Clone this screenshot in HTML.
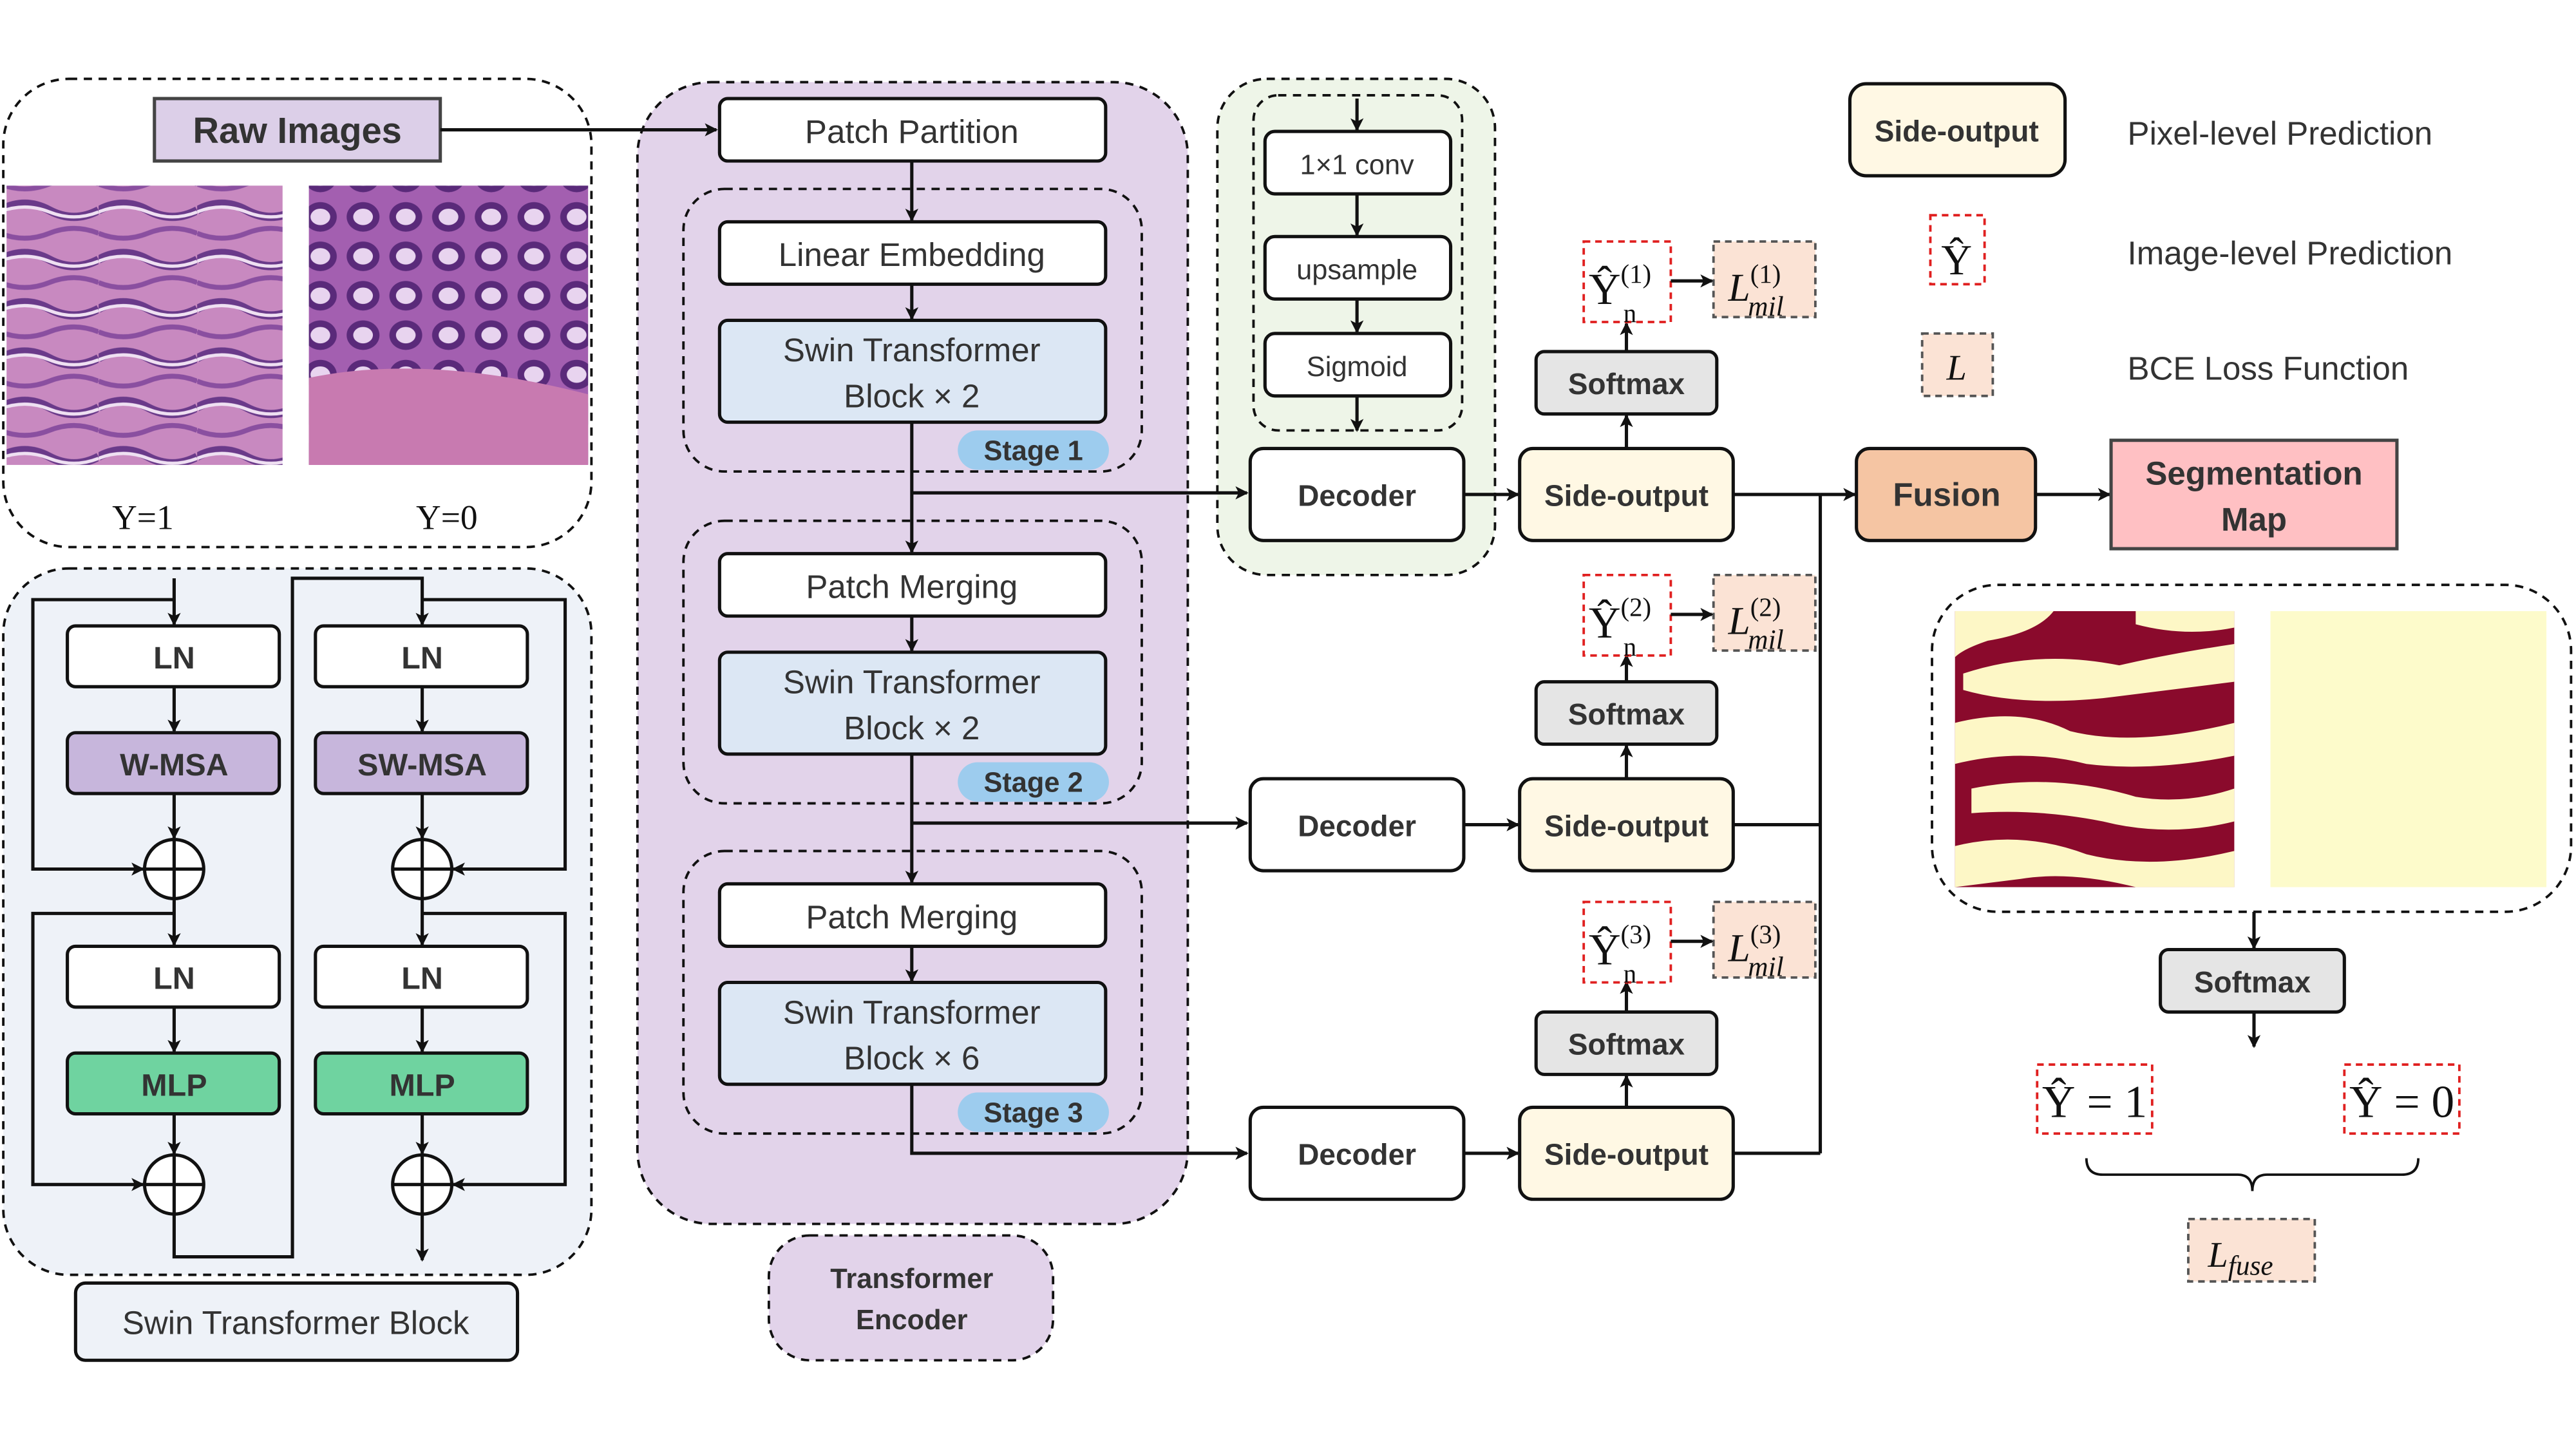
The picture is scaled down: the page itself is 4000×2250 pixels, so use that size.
<!DOCTYPE html>
<html><head><meta charset="utf-8"><style>
html,body{margin:0;padding:0;background:#fff}
svg{display:block}
text{font-family:"Liberation Sans",sans-serif;fill:#333}
.b{font-weight:bold}
.s{font-family:"Liberation Serif",serif;fill:#111}
</style></head><body>
<svg width="4000" height="2250" viewBox="0 0 1568 882" preserveAspectRatio="none" xmlns="http://www.w3.org/2000/svg">
<defs>
<marker id="a" markerWidth="8" markerHeight="8" refX="7" refY="4" orient="auto" markerUnits="userSpaceOnUse"><path d="M0,0 L8,4 L0,8 L2,4 z" fill="#111"/></marker>
<pattern id="glands" width="26" height="24" patternUnits="userSpaceOnUse">
<rect width="26" height="24" fill="#a35fb0"/>
<ellipse cx="13" cy="12" rx="10" ry="9" fill="#5a2a7a"/>
<ellipse cx="13" cy="12" rx="6" ry="5" fill="#e8d4ef"/>
</pattern>
<pattern id="tissue" width="60" height="30" patternUnits="userSpaceOnUse">
<rect width="60" height="30" fill="#c889c0"/>
<path d="M0,8 Q15,0 30,8 T60,8" stroke="#6a3a8a" stroke-width="5" fill="none"/>
<path d="M0,9 Q15,3 30,9 T60,9" stroke="#efe0f2" stroke-width="2" fill="none"/>
<path d="M0,22 Q15,28 30,22 T60,22" stroke="#8a4fa0" stroke-width="3" fill="none"/>
</pattern>
</defs>
<g stroke="#111" stroke-width="2" fill="none">
<!-- top-left panel -->
<rect x="2" y="48" width="358" height="285" rx="40" stroke-dasharray="5,4" stroke-width="1.5"/>
<rect x="94" y="60" width="174" height="38" fill="#dccfe8" stroke="#444"/>
<rect x="4" y="113" width="168" height="170" fill="url(#tissue)" stroke="none"/>
<rect x="188" y="113" width="170" height="170" fill="url(#glands)" stroke="none"/>
<path d="M188,230 Q260,215 358,240 L358,283 L188,283z" fill="#c87ab0" stroke="none"/>
<!-- swin block panel -->
<rect x="2" y="346" width="358" height="430" rx="40" fill="#eef2f8" stroke-dasharray="5,4" stroke-width="1.5"/>
<rect x="41" y="381" width="129" height="37" rx="5" fill="#fff"/>
<rect x="192" y="381" width="129" height="37" rx="5" fill="#fff"/>
<rect x="41" y="446" width="129" height="37" rx="5" fill="#c7b6dc"/>
<rect x="192" y="446" width="129" height="37" rx="5" fill="#c7b6dc"/>
<rect x="41" y="576" width="129" height="37" rx="5" fill="#fff"/>
<rect x="192" y="576" width="129" height="37" rx="5" fill="#fff"/>
<rect x="41" y="641" width="129" height="37" rx="5" fill="#6fd3a0"/>
<rect x="192" y="641" width="129" height="37" rx="5" fill="#6fd3a0"/>
<circle cx="106" cy="529" r="18" fill="#fff"/><path d="M88,529h36M106,511v36"/>
<circle cx="257" cy="529" r="18" fill="#fff"/><path d="M239,529h36M257,511v36"/>
<circle cx="106" cy="721" r="18" fill="#fff"/><path d="M88,721h36M106,703v36"/>
<circle cx="257" cy="721" r="18" fill="#fff"/><path d="M239,721h36M257,703v36"/>
<line x1="106" y1="352" x2="106" y2="380" marker-end="url(#a)"/>
<line x1="106" y1="418" x2="106" y2="445" marker-end="url(#a)"/>
<line x1="106" y1="483" x2="106" y2="510" marker-end="url(#a)"/>
<line x1="106" y1="547" x2="106" y2="575" marker-end="url(#a)"/>
<line x1="106" y1="613" x2="106" y2="640" marker-end="url(#a)"/>
<line x1="106" y1="678" x2="106" y2="702" marker-end="url(#a)"/>
<path d="M106,739 V765 H178 V352 H257 V380" marker-end="url(#a)"/>
<line x1="257" y1="418" x2="257" y2="445" marker-end="url(#a)"/>
<line x1="257" y1="483" x2="257" y2="510" marker-end="url(#a)"/>
<line x1="257" y1="547" x2="257" y2="575" marker-end="url(#a)"/>
<line x1="257" y1="613" x2="257" y2="640" marker-end="url(#a)"/>
<line x1="257" y1="678" x2="257" y2="702" marker-end="url(#a)"/>
<line x1="257" y1="739" x2="257" y2="767" marker-end="url(#a)"/>
<path d="M106,365 H20 V529 H87" marker-end="url(#a)"/>
<path d="M106,556 H20 V721 H87" marker-end="url(#a)"/>
<path d="M257,365 H344 V529 H276" marker-end="url(#a)"/>
<path d="M257,556 H344 V721 H276" marker-end="url(#a)"/>
<rect x="46" y="781" width="269" height="47" rx="6" fill="#eef2f8"/>
<!-- encoder -->
<rect x="388" y="50" width="335" height="695" rx="45" fill="#e2d3ea" stroke-dasharray="5,4" stroke-width="1.5"/>
<!-- decoder detail panel -->
<rect x="741" y="48" width="169" height="302" rx="30" fill="#eef5e8" stroke-dasharray="5,4" stroke-width="1.5"/>
<rect x="763" y="58" width="127" height="204" rx="15" stroke-dasharray="5,4" stroke-width="1.5"/>
<rect x="416" y="115" width="279" height="172" rx="25" stroke-dasharray="5,4" stroke-width="1.5"/>
<rect x="416" y="317" width="279" height="172" rx="25" stroke-dasharray="5,4" stroke-width="1.5"/>
<rect x="416" y="518" width="279" height="172" rx="25" stroke-dasharray="5,4" stroke-width="1.5"/>
<rect x="438" y="60" width="235" height="38" rx="5" fill="#fff"/>
<rect x="438" y="135" width="235" height="38" rx="5" fill="#fff"/>
<rect x="438" y="195" width="235" height="62" rx="5" fill="#dce7f4"/>
<rect x="438" y="337" width="235" height="38" rx="5" fill="#fff"/>
<rect x="438" y="397" width="235" height="62" rx="5" fill="#dce7f4"/>
<rect x="438" y="538" width="235" height="38" rx="5" fill="#fff"/>
<rect x="438" y="598" width="235" height="62" rx="5" fill="#dce7f4"/>
<rect x="583" y="262" width="92" height="24" rx="12" fill="#9dccee" stroke="none"/>
<rect x="583" y="464" width="92" height="24" rx="12" fill="#9dccee" stroke="none"/>
<rect x="583" y="665" width="92" height="24" rx="12" fill="#9dccee" stroke="none"/>
<line x1="555" y1="98" x2="555" y2="134" marker-end="url(#a)"/>
<line x1="555" y1="173" x2="555" y2="194" marker-end="url(#a)"/>
<line x1="555" y1="257" x2="555" y2="336" marker-end="url(#a)"/>
<line x1="555" y1="375" x2="555" y2="396" marker-end="url(#a)"/>
<line x1="555" y1="459" x2="555" y2="537" marker-end="url(#a)"/>
<line x1="555" y1="576" x2="555" y2="597" marker-end="url(#a)"/>
<line x1="555" y1="300" x2="759" y2="300" marker-end="url(#a)"/>
<line x1="555" y1="501" x2="759" y2="501" marker-end="url(#a)"/>
<path d="M555,660 V702 H759" marker-end="url(#a)"/>
<line x1="268" y1="79" x2="436" y2="79" marker-end="url(#a)"/>
<rect x="468" y="752" width="173" height="76" rx="25" fill="#e2d3ea" stroke-dasharray="5,4" stroke-width="1.5"/>
<rect x="770" y="80" width="113" height="38" rx="6" fill="#fff"/>
<rect x="770" y="144" width="113" height="38" rx="6" fill="#fff"/>
<rect x="770" y="203" width="113" height="38" rx="6" fill="#fff"/>
<line x1="826" y1="60" x2="826" y2="79" marker-end="url(#a)"/>
<line x1="826" y1="118" x2="826" y2="143" marker-end="url(#a)"/>
<line x1="826" y1="182" x2="826" y2="202" marker-end="url(#a)"/>
<line x1="826" y1="241" x2="826" y2="262" marker-end="url(#a)"/>
<!-- decoders & side outputs -->
<rect x="761" y="273" width="130" height="56" rx="8" fill="#fff"/>
<rect x="761" y="474" width="130" height="56" rx="8" fill="#fff"/>
<rect x="761" y="674" width="130" height="56" rx="8" fill="#fff"/>
<rect x="925" y="273" width="130" height="56" rx="8" fill="#fff8e4"/>
<rect x="925" y="474" width="130" height="56" rx="8" fill="#fff8e4"/>
<rect x="925" y="674" width="130" height="56" rx="8" fill="#fff8e4"/>
<line x1="891" y1="301" x2="924" y2="301" marker-end="url(#a)"/>
<line x1="891" y1="502" x2="924" y2="502" marker-end="url(#a)"/>
<line x1="891" y1="702" x2="924" y2="702" marker-end="url(#a)"/>
<rect x="935" y="214" width="110" height="38" rx="5" fill="#e5e5e5"/>
<rect x="935" y="415" width="110" height="38" rx="5" fill="#e5e5e5"/>
<rect x="935" y="616" width="110" height="38" rx="5" fill="#e5e5e5"/>
<line x1="990" y1="273" x2="990" y2="253" marker-end="url(#a)"/>
<line x1="990" y1="214" x2="990" y2="197" marker-end="url(#a)"/>
<line x1="990" y1="474" x2="990" y2="454" marker-end="url(#a)"/>
<line x1="990" y1="415" x2="990" y2="399" marker-end="url(#a)"/>
<line x1="990" y1="674" x2="990" y2="655" marker-end="url(#a)"/>
<line x1="990" y1="616" x2="990" y2="598" marker-end="url(#a)"/>
<g stroke="#e02020" stroke-width="1.5" stroke-dasharray="4,3">
<rect x="964" y="147" width="53" height="49"/>
<rect x="964" y="350" width="53" height="49"/>
<rect x="964" y="549" width="53" height="49"/>
<rect x="1175" y="131" width="33" height="42"/>
<rect x="1240" y="648" width="70" height="42"/>
<rect x="1427" y="648" width="70" height="42"/>
</g>
<g stroke="#555" stroke-width="1.5" stroke-dasharray="4,3" fill="#fbe3d5">
<rect x="1043" y="147" width="62" height="46"/>
<rect x="1043" y="350" width="62" height="46"/>
<rect x="1043" y="549" width="62" height="46"/>
<rect x="1170" y="203" width="43" height="38"/>
<rect x="1332" y="742" width="77" height="38"/>
</g>
<line x1="1017" y1="171" x2="1042" y2="171" marker-end="url(#a)"/>
<line x1="1017" y1="374" x2="1042" y2="374" marker-end="url(#a)"/>
<line x1="1017" y1="573" x2="1042" y2="573" marker-end="url(#a)"/>
<path d="M1055,301 H1108 M1055,502 H1108 M1055,702 H1108 M1108,301 V702"/>
<line x1="1108" y1="301" x2="1129" y2="301" marker-end="url(#a)"/>
<rect x="1130" y="273" width="109" height="56" rx="8" fill="#f5c5a3"/>
<line x1="1239" y1="301" x2="1284" y2="301" marker-end="url(#a)"/>
<rect x="1285" y="268" width="174" height="66" fill="#ffc0c3" stroke="#444"/>
<rect x="1126" y="51" width="131" height="56" rx="10" fill="#fff8e4"/>
<!-- seg panel -->
<rect x="1176" y="356" width="389" height="199" rx="40" stroke-dasharray="5,4" stroke-width="1.5"/>
<rect x="1190" y="372" width="170" height="168" fill="#8a0a2c" stroke="none"/>
<g fill="#fdf7c6" stroke="none">
<path d="M1190,372 H1250 Q1240,385 1210,390 Q1195,395 1190,400z"/>
<path d="M1195,410 Q1240,395 1290,405 Q1320,398 1360,392 V415 Q1320,420 1280,425 Q1230,430 1195,420z"/>
<path d="M1300,372 H1360 V382 Q1330,388 1300,380z"/>
<path d="M1190,440 Q1230,430 1260,445 Q1300,455 1360,440 V460 Q1310,470 1270,465 Q1230,455 1190,465z"/>
<path d="M1200,480 Q1250,470 1300,485 Q1330,490 1360,480 V500 Q1320,510 1280,500 Q1240,492 1200,495z"/>
<path d="M1190,515 Q1230,505 1270,520 Q1310,530 1360,518 V540 H1300 Q1260,530 1230,535 L1190,540z"/>
</g>
<rect x="1382" y="372" width="168" height="168" fill="#fdfbcb" stroke="none"/>
<line x1="1372" y1="555" x2="1372" y2="577" marker-end="url(#a)"/>
<rect x="1315" y="578" width="112" height="38" rx="5" fill="#e5e5e5"/>
<line x1="1372" y1="616" x2="1372" y2="637" marker-end="url(#a)"/>
<path d="M1270,705 Q1270,715 1280,715 H1362 Q1371,715 1371,725 Q1371,715 1380,715 H1462 Q1472,715 1472,705" stroke-width="1.5"/>
</g>
<!-- text -->
<g text-anchor="middle">
<text x="181" y="87" font-size="22" class="b" fill="#111">Raw Images</text>
<text x="87" y="322" font-size="21" class="s">Y=1</text>
<text x="272" y="322" font-size="21" class="s">Y=0</text>
<text x="106" y="407" font-size="19" class="b">LN</text>
<text x="257" y="407" font-size="19" class="b">LN</text>
<text x="106" y="472" font-size="19" class="b">W-MSA</text>
<text x="257" y="472" font-size="19" class="b">SW-MSA</text>
<text x="106" y="602" font-size="19" class="b">LN</text>
<text x="257" y="602" font-size="19" class="b">LN</text>
<text x="106" y="667" font-size="19" class="b" fill="#111">MLP</text>
<text x="257" y="667" font-size="19" class="b" fill="#111">MLP</text>
<text x="180" y="812" font-size="20" fill="#444">Swin Transformer Block</text>
<text x="555" y="87" font-size="20" fill="#444">Patch Partition</text>
<text x="555" y="162" font-size="20" fill="#444">Linear Embedding</text>
<text x="555" y="220" font-size="20" fill="#444">Swin Transformer</text>
<text x="555" y="248" font-size="20" fill="#444">Block × 2</text>
<text x="629" y="280" font-size="17" class="b">Stage 1</text>
<text x="555" y="364" font-size="20" fill="#444">Patch Merging</text>
<text x="555" y="422" font-size="20" fill="#444">Swin Transformer</text>
<text x="555" y="450" font-size="20" fill="#444">Block × 2</text>
<text x="629" y="482" font-size="17" class="b">Stage 2</text>
<text x="555" y="565" font-size="20" fill="#444">Patch Merging</text>
<text x="555" y="623" font-size="20" fill="#444">Swin Transformer</text>
<text x="555" y="651" font-size="20" fill="#444">Block × 6</text>
<text x="629" y="683" font-size="17" class="b">Stage 3</text>
<text x="555" y="784" font-size="17" class="b" fill="#111">Transformer</text>
<text x="555" y="809" font-size="17" class="b" fill="#111">Encoder</text>
<text x="826" y="106" font-size="17" fill="#444">1×1 conv</text>
<text x="826" y="170" font-size="17" fill="#444">upsample</text>
<text x="826" y="229" font-size="17" fill="#444">Sigmoid</text>
<text x="826" y="308" font-size="18" class="b">Decoder</text>
<text x="826" y="509" font-size="18" class="b">Decoder</text>
<text x="826" y="709" font-size="18" class="b">Decoder</text>
<text x="990" y="308" font-size="18" class="b">Side-output</text>
<text x="990" y="509" font-size="18" class="b">Side-output</text>
<text x="990" y="709" font-size="18" class="b">Side-output</text>
<text x="990" y="240" font-size="18" class="b">Softmax</text>
<text x="990" y="441" font-size="18" class="b">Softmax</text>
<text x="990" y="642" font-size="18" class="b">Softmax</text>
<text x="1185" y="308" font-size="20" class="b" fill="#333">Fusion</text>
<text x="1372" y="295" font-size="20" class="b" fill="#111">Segmentation</text>
<text x="1372" y="323" font-size="20" class="b" fill="#111">Map</text>
<text x="1191" y="86" font-size="18" class="b">Side-output</text>
<text x="1371" y="604" font-size="18" class="b">Softmax</text>
<text x="1191" y="167" font-size="26" class="s">Ŷ</text>
<text x="1191" y="231" font-size="22" class="s" font-style="italic">L</text>
<text x="1275" y="680" font-size="28" class="s">Ŷ = 1</text>
<text x="1462" y="680" font-size="28" class="s">Ŷ = 0</text>
</g>
<g class="s">
<text x="967" y="185" font-size="27" class="s">Ŷ<tspan font-size="16" dy="-13">(1)</tspan><tspan font-size="16" dx="-17" dy="24">n</tspan></text>
<text x="967" y="388" font-size="27" class="s">Ŷ<tspan font-size="16" dy="-13">(2)</tspan><tspan font-size="16" dx="-17" dy="24">n</tspan></text>
<text x="967" y="587" font-size="27" class="s">Ŷ<tspan font-size="16" dy="-13">(3)</tspan><tspan font-size="16" dx="-17" dy="24">n</tspan></text>
<text x="1052" y="183" font-size="24" class="s" font-style="italic">L<tspan font-size="16" font-style="normal" dy="-11">(1)</tspan><tspan font-size="17" dx="-20" dy="20">mil</tspan></text>
<text x="1052" y="386" font-size="24" class="s" font-style="italic">L<tspan font-size="16" font-style="normal" dy="-11">(2)</tspan><tspan font-size="17" dx="-20" dy="20">mil</tspan></text>
<text x="1052" y="585" font-size="24" class="s" font-style="italic">L<tspan font-size="16" font-style="normal" dy="-11">(3)</tspan><tspan font-size="17" dx="-20" dy="20">mil</tspan></text>
<text x="1344" y="771" font-size="22" class="s" font-style="italic">L<tspan font-size="17" dy="5">fuse</tspan></text>
</g>
<text x="1295" y="88" font-size="20" fill="#111">Pixel-level Prediction</text>
<text x="1295" y="161" font-size="20" fill="#111">Image-level Prediction</text>
<text x="1295" y="231" font-size="20" fill="#111">BCE Loss Function</text>
</svg>
</body></html>
